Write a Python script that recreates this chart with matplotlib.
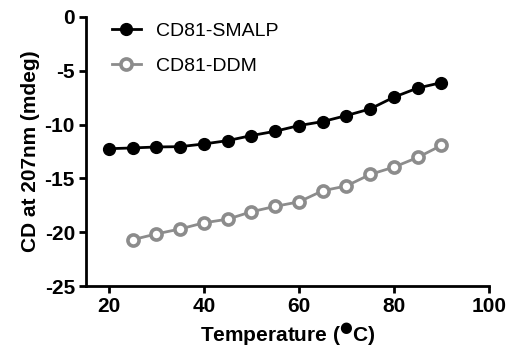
import numpy as np
import matplotlib
matplotlib.use("Agg")
import matplotlib.pyplot as plt

plt.rcParams["font.family"] = ["Liberation Sans", "DejaVu Sans"]

temp_smalp = [20, 25, 30, 35, 40, 45, 50, 55, 60, 65, 70, 75, 80, 85, 90]
cd_smalp = [-12.24, -12.17, -12.08, -12.05, -11.8, -11.49, -11.02, -10.62, -10.09,
            -9.72, -9.16, -8.54, -7.45, -6.6, -6.1]
temp_ddm = [25, 30, 35, 40, 45, 50, 55, 60, 65, 70, 75, 80, 85, 90]
cd_ddm = [-20.7, -20.16, -19.7, -19.13, -18.79, -18.1, -17.6, -17.18, -16.15,
          -15.7, -14.63, -13.95, -13.05, -11.93]

fig = plt.figure(figsize=(5.1, 3.58), dpi=100)
ax = fig.add_axes([86 / 510, 1 - 286 / 358, (489 - 86) / 510, (286 - 17) / 358])

ax.plot(temp_smalp, cd_smalp, color="black", lw=2, marker="o", ms=8.5,
        mfc="black", mec="black", label="CD81-SMALP", clip_on=False)
ax.plot(temp_ddm, cd_ddm, color="#8c8c8c", lw=2, marker="o", ms=8,
        mfc="white", mec="#8c8c8c", mew=2.6, label="CD81-DDM", clip_on=False)

ax.set_xlim(15.2, 100)
ax.set_ylim(-25, 0)
ax.set_xticks([20, 40, 60, 80, 100])
ax.set_yticks([0, -5, -10, -15, -20, -25])
ax.set_yticklabels(["0", "-5", "-10", "-15", "-20", "-25"])

for s in ["top", "right"]:
    ax.spines[s].set_visible(False)
for s in ["left", "bottom"]:
    ax.spines[s].set_linewidth(2)
ax.tick_params(width=2, length=5, labelsize=15, pad=3)
for lbl in ax.get_xticklabels() + ax.get_yticklabels():
    lbl.set_fontweight("bold")

ax.set_xlabel("Temperature ($^{\u25CF}$C)", fontsize=15, fontweight="bold", labelpad=4)
ax.set_ylabel("CD at 207nm (mdeg)", fontsize=15, fontweight="bold", labelpad=3)

ax.legend(loc="upper left", bbox_to_anchor=(0.02, 1.045), frameon=False, fontsize=14,
          handlelength=1.5, labelspacing=0.88, handletextpad=0.8)

fig.savefig("out.png", dpi=100)
